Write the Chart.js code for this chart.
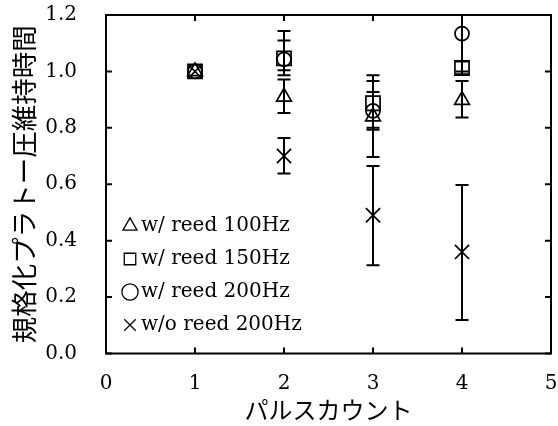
<!DOCTYPE html>
<html><head><meta charset="utf-8">
<script src="https://cdn.jsdelivr.net/npm/chart.js@4"></script>
<style>html,body{margin:0;padding:0;background:#fff;}</style>
</head><body>
<canvas id="c" width="558" height="426"></canvas>
<script>
// ---- data ----
const pulseCounts = [1, 2, 3, 4];
const seriesNames = ['w/ reed 100Hz', 'w/ reed 150Hz', 'w/ reed 200Hz', 'w/o reed 200Hz'];

const reed100 = [1.0, 0.91, 0.84, 0.898];
const reed100Low = [1.0, 0.853, 0.697, 0.837];
const reed100High = [1.0, 0.971, 0.986, 0.966];

const reed150 = [1.0, 1.046, 0.887, 1.012];
const reed150Low = [1.0, 1.004, 0.80, 0.99];
const reed150High = [1.0, 1.110, 0.966, 1.035];

const reed200 = [1.0, 1.043, 0.86, 1.134];
const reed200Low = [1.0, 0.986, 0.793, 1.0];
const reed200High = [1.0, 1.143, 0.927, 1.27];

const noReed200 = [1.0, 0.70, 0.49, 0.36];
const noReed200Low = [1.0, 0.638, 0.313, 0.119];
const noReed200High = [1.0, 0.764, 0.665, 0.597];

const xTickValues = [0, 1, 2, 3, 4, 5];
const yTickValues = [0.0, 0.2, 0.4, 0.6, 0.8, 1.0, 1.2];

const xTitle = 'パルスカウント';
const yTitle = '規格化プラトー圧維持時間';

// ---- helpers ----
const toPoints = (vals) => pulseCounts.map((x, i) => ({x: x, y: vals[i]}));
const serif = 'DejaVu Serif';
const rightMargin = 7;

function makeDataset(label, vals, lo, hi, style, radius) {
  return {
    label: label,
    data: toPoints(vals),
    errLow: lo,
    errHigh: hi,
    pointStyle: style,
    pointRadius: radius,
    pointHoverRadius: radius,
    pointBorderWidth: 1.7,
    borderWidth: 1.7,
    borderColor: '#000',
    backgroundColor: 'rgba(0,0,0,0)',
    showLine: false
  };
}

const errorBarPlugin = {
  id: 'errorBars',
  beforeDatasetsDraw(chart) {
    const {ctx, chartArea: a, scales: {x, y}} = chart;
    ctx.save();
    ctx.beginPath();
    ctx.rect(a.left, a.top, a.right - a.left, a.bottom - a.top);
    ctx.clip();
    ctx.strokeStyle = '#000';
    ctx.lineWidth = 2;
    const cap = 6.5;
    chart.data.datasets.forEach(ds => {
      ds.data.forEach((p, i) => {
        const lo = ds.errLow[i], hi = ds.errHigh[i];
        if (lo === hi) return;
        const px = x.getPixelForValue(p.x);
        const pl = y.getPixelForValue(lo);
        const ph = y.getPixelForValue(hi);
        ctx.beginPath();
        ctx.moveTo(px, pl); ctx.lineTo(px, ph);
        ctx.moveTo(px - cap, pl); ctx.lineTo(px + cap, pl);
        ctx.moveTo(px - cap, ph); ctx.lineTo(px + cap, ph);
        ctx.stroke();
      });
    });
    ctx.restore();
  }
};

const framePlugin = {
  id: 'frame',
  afterDraw(chart) {
    const {ctx, chartArea: a, scales: {x, y}} = chart;
    ctx.save();
    ctx.strokeStyle = '#000';
    ctx.lineWidth = 2;
    ctx.strokeRect(a.left, a.top, a.right - a.left, a.bottom - a.top);
    const tl = 6;
    ctx.beginPath();
    x.ticks.forEach(t => {
      const px = x.getPixelForValue(t.value);
      ctx.moveTo(px, a.bottom); ctx.lineTo(px, a.bottom - tl);
      ctx.moveTo(px, a.top); ctx.lineTo(px, a.top + tl);
    });
    y.ticks.forEach(t => {
      const py = y.getPixelForValue(t.value);
      ctx.moveTo(a.left, py); ctx.lineTo(a.left + tl, py);
      ctx.moveTo(a.right, py); ctx.lineTo(a.right - tl, py);
    });
    ctx.stroke();
    ctx.restore();
  }
};

// widen the plot area to the right margin and place the in-plot legend lower left
const layoutTweak = {
  id: 'layoutTweak',
  afterLayout(chart) {
    const a = chart.chartArea;
    const x = chart.scales.x;
    const right = chart.width - rightMargin;
    a.right = right; a.width = right - a.left;
    x.right = right; x.width = right - x.left;
    x.configure();
    const lg = chart.legend;
    if (!lg) return;
    lg.top += 9.5; lg.bottom += 9.5;
    lg.left += 10; lg.right += 10;
  }
};

new Chart(document.getElementById('c'), {
  type: 'scatter',
  data: {
    datasets: [
      makeDataset(seriesNames[0], reed100, reed100Low, reed100High, 'triangle', 8.5),
      makeDataset(seriesNames[1], reed150, reed150Low, reed150High, 'rect', 10),
      makeDataset(seriesNames[2], reed200, reed200Low, reed200High, 'circle', 7),
      makeDataset(seriesNames[3], noReed200, noReed200Low, noReed200High, 'crossRot', 10)
    ]
  },
  options: {
    responsive: false,
    animation: false,
    devicePixelRatio: 1,
    layout: {padding: {top: 15, right: rightMargin, left: 0, bottom: 0}},
    plugins: {
      tooltip: {enabled: false},
      legend: {
        position: 'chartArea',
        align: 'end',
        labels: {
          usePointStyle: true,
          boxWidth: 2,
          boxHeight: 11.5,
          padding: 13,
          color: '#000',
          font: {family: serif, size: 20},
          generateLabels(chart) {
            const items = Chart.defaults.plugins.legend.labels.generateLabels(chart);
            items.forEach(it => { it.lineWidth = 1.3; });
            return items;
          }
        }
      }
    },
    scales: {
      x: {
        type: 'linear',
        min: 0, max: 5,
        afterBuildTicks(scale) { scale.ticks = xTickValues.map(v => ({value: v})); },
        afterFit(scale) {
          scale.height = 72.5;
          scale.paddingLeft = 0; scale.paddingRight = 0;
        },
        grid: {display: false, drawTicks: false},
        border: {display: false},
        ticks: {
          color: '#000',
          padding: 0,
          maxRotation: 0,
          font: {family: serif, size: 20, lineHeight: 3},
          callback: (v) => String(v)
        },
        title: {
          display: true,
          text: xTitle,
          color: '#000',
          padding: 2,
          font: {family: 'Noto Sans CJK JP', size: 24}
        }
      },
      y: {
        type: 'linear',
        min: 0, max: 1.2,
        afterBuildTicks(scale) { scale.ticks = yTickValues.map(v => ({value: v})); },
        afterFit(scale) {
          scale.width = 106;
          scale.paddingTop = 0; scale.paddingBottom = 0;
        },
        grid: {display: false, drawTicks: false},
        border: {display: false},
        ticks: {
          color: '#000',
          padding: 29,
          font: {family: serif, size: 20},
          callback: (v) => Number(v).toFixed(1)
        },
        title: {
          display: true,
          text: yTitle,
          color: '#000',
          padding: 8,
          font: {family: 'Noto Sans CJK JP', size: 26.5}
        }
      }
    }
  },
  plugins: [errorBarPlugin, framePlugin, layoutTweak]
});
</script>
</body></html>
